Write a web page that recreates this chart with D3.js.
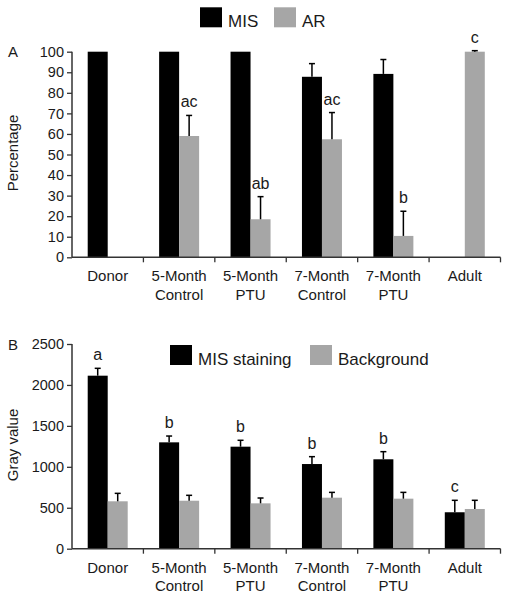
<!DOCTYPE html>
<html><head><meta charset="utf-8">
<script src="https://cdn.jsdelivr.net/npm/d3@7"></script>
<style>
body{margin:0;background:#fff;}
text{font-family:"Liberation Sans",Arial,Helvetica,sans-serif;fill:#1a1a1a;}
</style></head>
<body><svg id="c" width="508" height="601"></svg>
<script>
const categories = [["Donor"],["5-Month","Control"],["5-Month","PTU"],["7-Month","Control"],["7-Month","PTU"],["Adult"]];

// Panel A
const seriesA = ["MIS","AR"];
const misA = [100,100,100,87.8,89.2,0];
const misAErr = [0,0,0,6.4,7,0];
const arA = [0,59,18.5,57.4,10.4,100];
const arAErr = [0,10,11,13,12,0.5];
const arALabels = ["","ac","ab","ac","b","c"];
const ticksA = [0,10,20,30,40,50,60,70,80,90,100];

// Panel B
const seriesB = ["MIS staining","Background"];
const misB = [2113,1299,1246,1034,1092,445];
const misBErr = [90,77,78,90,93,146];
const bgB = [579,586,554,623,611,485];
const bgBErr = [97,66,65,65,77,106];
const misBLabels = ["a","b","b","b","b","c"];
const ticksB = [0,500,1000,1500,2000,2500];

const colors = ["#000000","#a6a6a6"];
const svg = d3.select("#c");

function panel(opt){
  const g = svg.append("g");
  const x = d3.scaleBand().domain(d3.range(categories.length)).range([72,500.5]).paddingInner(0).paddingOuter(0);
  const y = d3.scaleLinear().domain(opt.domain).range([opt.y0,opt.y1]);
  const bw = 20;
  const off = (x.bandwidth()-2*bw)/2;
  const series = [opt.s1, opt.s2];
  const errs = [opt.e1, opt.e2];
  series.forEach((vals,si)=>{
    vals.forEach((v,i)=>{
      if(v<=0) return;
      const bx = x(i)+off+si*bw;
      g.append("rect").attr("x",bx).attr("y",y(v)).attr("width",bw).attr("height",y(0)-y(v)).attr("fill",colors[si]);
      const e = errs[si][i];
      if(e>0){
        const cx = bx+bw/2;
        g.append("line").attr("x1",cx).attr("x2",cx).attr("y1",y(v)).attr("y2",y(v+e)).attr("stroke","#000").attr("stroke-width",1.5);
        g.append("line").attr("x1",cx-3).attr("x2",cx+3).attr("y1",y(v+e)).attr("y2",y(v+e)).attr("stroke","#000").attr("stroke-width",1.5);
      }
    });
  });
  // letters
  const ls = opt.labelSeries;
  opt.labels.forEach((t,i)=>{
    if(!t) return;
    const v = series[ls][i]+errs[ls][i];
    const cx = x(i)+off+ls*bw+bw/2;
    g.append("text").attr("x",cx).attr("y",y(v)-8).attr("text-anchor","middle").style("font-size","16px").text(t);
  });
  // y axis
  const ya = g.append("g").attr("transform","translate(72,0)").call(d3.axisLeft(y).tickValues(opt.ticks).tickSize(5).tickPadding(3).tickFormat(d3.format("d")));
  ya.select(".domain").attr("stroke","#333").attr("stroke-width",1.5).attr("d",`M0,${y(opt.domain[0])}V${y(opt.domain[1])}`);
  ya.selectAll(".tick line").attr("stroke","#333").attr("stroke-width",1.3);
  ya.selectAll(".tick text").style("font-size","14.5px").style("font-family","Liberation Sans, Arial, sans-serif").attr("fill","#1a1a1a");
  // x axis
  const xa = g.append("g").attr("transform",`translate(0,${y(0)})`);
  xa.append("line").attr("x1",72).attr("x2",500.5).attr("y1",0).attr("y2",0).attr("stroke","#333").attr("stroke-width",1.5);
  categories.forEach((c,i)=>{
    const tx = x(i)+x.bandwidth();
    xa.append("line").attr("x1",tx).attr("x2",tx).attr("y1",0).attr("y2",5).attr("stroke","#333").attr("stroke-width",1.3);
    const t = xa.append("text").attr("text-anchor","middle").style("font-size","15px");
    c.forEach((line,li)=>{
      t.append("tspan").attr("x",x(i)+x.bandwidth()/2).attr("y",24+li*18.5).text(line);
    });
  });
  // panel letter
  g.append("text").attr("x",8).attr("y",opt.letterY).style("font-size","15px").text(opt.letter);
  // y title
  g.append("text").attr("transform",`translate(18,${opt.titleY}) rotate(-90)`).attr("text-anchor","middle").style("font-size","15px").text(opt.title);
  // legend
  opt.legend.forEach((l,k)=>{
    g.append("rect").attr("x",l.x).attr("y",opt.legY).attr("width",22).attr("height",20).attr("fill",colors[k]);
    g.append("text").attr("x",l.x+28).attr("y",opt.legY+20).style("font-size","17px").text(l.name);
  });
}

panel({domain:[0,100], y0:257.3, y1:51.7, s1:misA, s2:arA, e1:misAErr, e2:arAErr,
  labels:arALabels, labelSeries:1, ticks:ticksA, letter:"A", letterY:57, title:"Percentage", titleY:153,
  legY:7.3, legend:[{x:200,name:seriesA[0]},{x:274,name:seriesA[1]}]});

panel({domain:[0,2500], y0:548.7, y1:344, s1:misB, s2:bgB, e1:misBErr, e2:bgBErr,
  labels:misBLabels, labelSeries:0, ticks:ticksB, letter:"B", letterY:350, title:"Gray value", titleY:445,
  legY:345, legend:[{x:170,name:seriesB[0]},{x:310,name:seriesB[1]}]});
</script></body></html>
